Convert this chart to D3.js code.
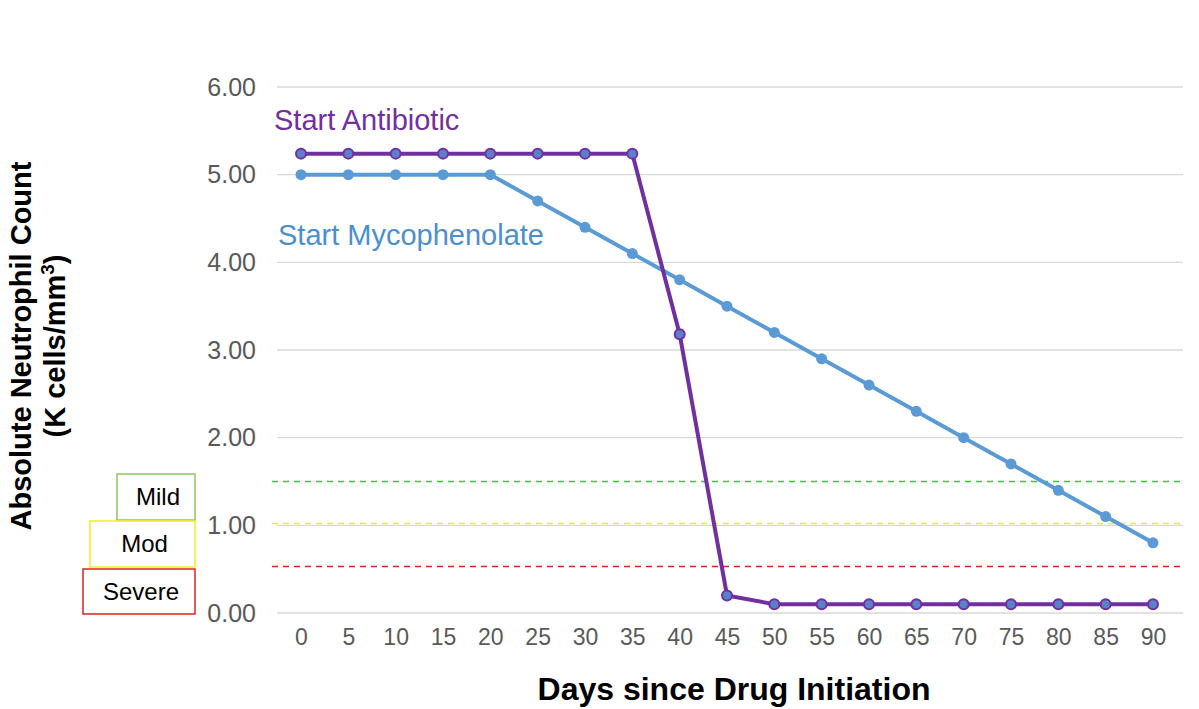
<!DOCTYPE html>
<html><head><meta charset="utf-8">
<script src="https://cdn.jsdelivr.net/npm/d3@7"></script>
<style>body{margin:0;background:#fff;font-family:Arial,"Liberation Sans",sans-serif}</style>
</head><body>
<svg id="chart" width="1199" height="709"></svg>
<script>
var days = [0,5,10,15,20,25,30,35,40,45,50,55,60,65,70,75,80,85,90];
var antibiotic = [5.24,5.24,5.24,5.24,5.24,5.24,5.24,5.24,3.18,0.2,0.1,0.1,0.1,0.1,0.1,0.1,0.1,0.1,0.1];
var mycophenolate = [5,5,5,5,5,4.7,4.4,4.1,3.8,3.5,3.2,2.9,2.6,2.3,2.0,1.7,1.4,1.1,0.8];
var yTicks = [0,1,2,3,4,5,6];
var thresholds = [1.5, 1.02, 0.53];
var thresholdColors = ["#33cc33", "#eeee22", "#dd2222"];
var severity = ["Mild", "Mod", "Severe"];
var severityColors = ["#8cc860", "#f0f020", "#dd2222"];

var svg = d3.select("#chart");
var x = d3.scaleLinear().domain([0, 90]).range([301, 1153]);
var y = d3.scaleLinear().domain([0, 6]).range([613, 87]);
var left = 277, right = 1183;

// gridlines
svg.selectAll(".grid").data(yTicks).enter().append("line")
    .attr("x1", left).attr("x2", right)
    .attr("y1", d => y(d)).attr("y2", d => y(d))
    .attr("stroke", "#d9d9d9").attr("stroke-width", 1.3);

var yAxis = svg.append("g").attr("transform", "translate(" + left + ",0)")
    .call(d3.axisLeft(y).tickValues(yTicks).tickFormat(d3.format(".2f")).tickSize(0).tickPadding(21));
yAxis.select(".domain").remove();
yAxis.selectAll("text").attr("font-size", 25).attr("fill", "#595959").attr("font-family", "Arial, Liberation Sans");

var xAxis = svg.append("g").attr("transform", "translate(0," + 628 + ")")
    .call(d3.axisBottom(x).tickValues(days).tickSize(0).tickPadding(0));
xAxis.select(".domain").remove();
xAxis.selectAll("text").attr("font-size", 23).attr("fill", "#595959").attr("dy", "0.75em").attr("font-family", "Arial, Liberation Sans");

// threshold lines
svg.selectAll(".thr").data(thresholds).enter().append("line")
    .attr("x1", 272).attr("x2", right)
    .attr("y1", d => y(d)).attr("y2", d => y(d))
    .attr("stroke", (d, i) => thresholdColors[i]).attr("stroke-width", 1.5)
    .attr("stroke-dasharray", "6,5");

// severity boxes
var boxes = [[117, 474, 78, 46], [90, 521, 105, 46], [83, 569, 112, 45]];
severity.forEach(function (s, i) {
    var b = boxes[i];
    svg.append("rect").attr("x", b[0]).attr("y", b[1]).attr("width", b[2]).attr("height", b[3])
        .attr("fill", "#fff").attr("stroke", severityColors[i]).attr("stroke-width", 1.5);
    svg.append("text").attr("x", b[0] + b[2] / 2 + 2).attr("y", b[1] + b[3] / 2 + 8)
        .attr("text-anchor", "middle").attr("font-size", 24).attr("fill", "#000").text(s);
});

var line = d3.line().x((d, i) => x(days[i])).y(d => y(d));

svg.append("path").datum(mycophenolate).attr("d", line)
    .attr("fill", "none").attr("stroke", "#5b9bd5").attr("stroke-width", 4);
svg.selectAll(".myc").data(mycophenolate).enter().append("circle")
    .attr("cx", (d, i) => x(days[i])).attr("cy", d => y(d)).attr("r", 5.5).attr("fill", "#5b9bd5");

svg.append("path").datum(antibiotic).attr("d", line)
    .attr("fill", "none").attr("stroke", "#7030a0").attr("stroke-width", 4);
svg.selectAll(".abx").data(antibiotic).enter().append("circle")
    .attr("cx", (d, i) => x(days[i])).attr("cy", d => y(d)).attr("r", 5)
    .attr("fill", "#5b7fc8").attr("stroke", "#7030a0").attr("stroke-width", 2);

svg.append("text").attr("x", 274).attr("y", 130).attr("font-size", 29).attr("fill", "#7030a0").text("Start Antibiotic");
svg.append("text").attr("x", 278).attr("y", 245).attr("font-size", 29).attr("fill", "#4a90d0").text("Start Mycophenolate");

svg.append("text").attr("x", 734).attr("y", 700).attr("text-anchor", "middle")
    .attr("font-size", 32).attr("font-weight", "bold").text("Days since Drug Initiation");

var yl = svg.append("text").attr("transform", "translate(31,346) rotate(-90)")
    .attr("text-anchor", "middle").attr("font-size", 29).attr("font-weight", "bold");
yl.append("tspan").attr("x", 0).attr("dy", 0).text("Absolute Neutrophil Count");
yl.append("tspan").attr("x", 0).attr("dy", 34).text("(K cells/mm");
yl.append("tspan").attr("dy", -11).attr("font-size", 19).text("3");
yl.append("tspan").attr("dy", 11).text(")");
</script>
</body></html>
